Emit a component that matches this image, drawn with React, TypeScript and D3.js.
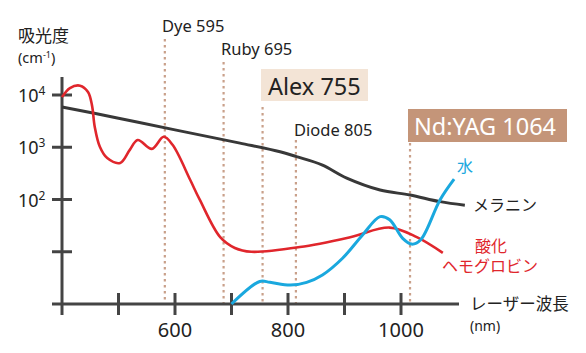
import React from "react";
import * as d3 from "d3";

// ---- data ----
const xTicks = [500, 600, 700, 800, 900, 1000];
const xTickLabels = ["", "600", "", "800", "", "1000"];
const yTicks = [10, 100, 1000, 10000];
const yTickExp = ["", "2", "3", "4"];

const laserNames = ["Dye 595", "Ruby 695", "Alex 755", "Diode 805", "Nd:YAG 1064"];
const laserPos = [582, 686, 755, 814, 1016];

const melaninWl = [400, 500, 600, 715, 786, 815, 860, 904, 963, 1016, 1069, 1113];
const melaninVal = [5900, 3600, 2150, 1200, 820, 660, 460, 257, 152, 122, 91, 78];

const hbWl = [400, 414, 432, 446, 453, 458, 467, 480, 503, 520, 534, 559, 580, 596, 627, 644, 680, 706, 735, 821, 910, 980, 1028, 1074];
const hbVal = [9100, 13600, 15100, 11400, 6400, 2450, 1020, 620, 500, 890, 1380, 930, 1590, 1100, 236, 98, 19, 11.8, 10, 12.3, 19, 29, 19, 9.5];

const waterWl = [700, 750, 768, 804, 833, 861, 897, 932, 963, 980, 1003, 1019, 1035, 1069, 1094];
const waterVal = [1, 2.7, 2.6, 2.3, 2.6, 3.6, 7.6, 21, 47, 41, 18, 14, 17, 98, 245];

// ---- layout / style ----
const W = 586, H = 353;
const FONT = "'Noto Sans', 'Noto Sans CJK JP', sans-serif";
const AXIS = "#444";
const TEXT = "#222";
const RED = "#e0262c";
const BLUE = "#1aa8de";
const BLACK = "#383838";
const DOT = "#c9a08a";
const laserTop = [39, 62, 107, 140, 143];
const laserLabel = [
  { x: 162, y: 32, size: 16.5, box: null, color: TEXT },
  { x: 221, y: 55, size: 16.5, box: null, color: TEXT },
  { x: 268, y: 95, size: 23.5, box: { x: 261, y: 69, w: 107, h: 32, fill: "#f3e4d6" }, color: TEXT },
  { x: 294, y: 136, size: 16.5, box: null, color: TEXT },
  { x: 414, y: 135, size: 23.5, box: { x: 408, y: 109, w: 159, h: 33, fill: "#c49579" }, color: "#fff" },
];

export default function App() {
  const x = d3.scaleLinear().domain([400, 1000]).range([62, 401]);
  const y = d3.scaleLog().domain([1, 10000]).range([304, 95]);
  const line = d3
    .line<[number, number]>()
    .x((d) => x(d[0]))
    .y((d) => y(d[1]))
    .curve(d3.curveCatmullRom.alpha(0.5));
  const pts = (a: number[], b: number[]) => a.map((w, i) => [w, b[i]] as [number, number]);

  return (
    <svg width={W} height={H} style={{ position: "absolute", left: 0, top: 0, background: "#fff" }} fontFamily={FONT}>
      {/* laser dotted lines */}
      {laserPos.map((p, i) => (
        <line key={"l" + i} x1={x(p)} x2={x(p)} y1={laserTop[i]} y2={304} stroke={DOT} strokeWidth={2.2} strokeDasharray="2.5 3.5" />
      ))}
      {/* laser labels */}
      {laserNames.map((n, i) => {
        const L = laserLabel[i];
        return (
          <g key={"t" + i}>
            {L.box && <rect x={L.box.x} y={L.box.y} width={L.box.w} height={L.box.h} fill={L.box.fill} />}
            <text x={L.x} y={L.y} fontSize={L.size} fill={L.color}>
              {n}
            </text>
          </g>
        );
      })}

      {/* axes */}
      <line x1={62} x2={62} y1={77} y2={315} stroke={AXIS} strokeWidth={3} />
      <line x1={52} x2={459} y1={304} y2={304} stroke={AXIS} strokeWidth={3} />
      {yTicks.map((t, i) => (
        <g key={"yt" + i}>
          <line x1={52} x2={72} y1={y(t)} y2={y(t)} stroke={AXIS} strokeWidth={3} />
          {yTickExp[i] && (
            <text x={18} y={y(t) + 7} fontSize={18} fill={TEXT}>
              10
              <tspan dy={-7} fontSize={12}>
                {yTickExp[i]}
              </tspan>
            </text>
          )}
        </g>
      ))}
      {xTicks.map((t, i) => (
        <g key={"xt" + i}>
          <line x1={x(t)} x2={x(t)} y1={293} y2={315} stroke={AXIS} strokeWidth={3} />
          {xTickLabels[i] && (
            <text x={x(t)} y={337} fontSize={20} fill={TEXT} textAnchor="middle">
              {xTickLabels[i]}
            </text>
          )}
        </g>
      ))}

      {/* series */}
      <path d={line(pts(melaninWl, melaninVal)) || ""} fill="none" stroke={BLACK} strokeWidth={3} />
      <path d={line(pts(hbWl, hbVal)) || ""} fill="none" stroke={RED} strokeWidth={2.6} />
      <path d={line(pts(waterWl, waterVal)) || ""} fill="none" stroke={BLUE} strokeWidth={3} />

      {/* axis titles */}
      <text x={18} y={42} fontSize={17} fill={TEXT}>吸光度</text>
      <text x={18} y={63} fontSize={14.5} fill={TEXT}>
        (cm<tspan dy={-5} fontSize={9}>-1</tspan>
        <tspan dy={5}>)</tspan>
      </text>
      <text x={470} y={310} fontSize={16.5} fill={TEXT}>レーザー波長</text>
      <text x={470} y={331} fontSize={14} fill={TEXT}>(nm)</text>

      {/* series labels */}
      <text x={457} y={172} fontSize={16} fill={BLUE}>水</text>
      <text x={473} y={211} fontSize={16} fill={TEXT}>メラニン</text>
      <text x={491} y={252} fontSize={16} fill={RED} textAnchor="middle">酸化</text>
      <text x={490} y={272} fontSize={16} fill={RED} textAnchor="middle">ヘモグロビン</text>
    </svg>
  );
}
